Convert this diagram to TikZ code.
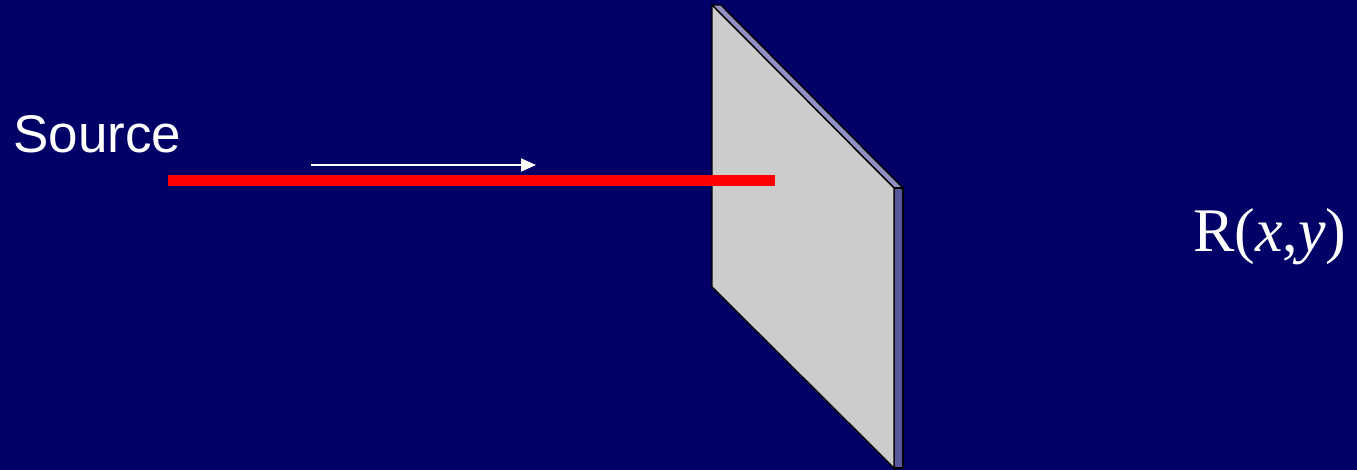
\documentclass[tikz,border=0pt]{standalone}
\usepackage{fontspec}
\setmainfont{Liberation Sans}
\newfontfamily\timesrm{Liberation Serif}
\definecolor{slidebg}{HTML}{000066}
\definecolor{platefront}{HTML}{CCCCCC}
\definecolor{platetop}{HTML}{9090C4}
\definecolor{plateside}{HTML}{58589C}
\usetikzlibrary{arrows.meta, positioning}

\begin{document}
\begin{tikzpicture}[
  x=1pt, y=-1pt,
  caption/.style={text=white, inner sep=0pt, anchor=base west},
  face/.style={draw=black, line width=1.4pt, line join=miter},
  beam/.style={draw=red, line width=11pt},
  flow/.style={-{Triangle[length=15pt, width=13pt]}, white, line width=1.8pt},
]
  % background and frame
  \fill[slidebg] (0,0) rectangle (1357,470);
  \useasboundingbox (0,0) rectangle (1357,470);

  % the plate
  \coordinate (tl) at (712,5);
  \coordinate (bl) at (712,287);
  \coordinate (br) at (894,468);
  \coordinate (tr) at (894,188);
  \coordinate (ttr) at (721,5);
  \coordinate (str) at (903,188);
  \coordinate (sbr) at (903,468);
  \filldraw[face, fill=platetop]   (tl) -- (ttr) -- (str) -- (tr) -- cycle;
  \filldraw[face, fill=plateside]  (tr) -- (str) -- (sbr) -- (br) -- cycle;
  \filldraw[face, fill=platefront] (tl) -- (tr) -- (br) -- (bl) -- cycle;

  % incoming beam
  \coordinate (b0) at (168,181);
  \coordinate (b1) at (775,181);
  \draw[beam] (b0) -- (b1);

  \coordinate (a0) at (311,165);
  \coordinate (a1) at (536,165);
  \draw[flow] (a0) -- (a1);

  % labels
  \node[caption, font=\fontsize{53}{60}\selectfont] (source) at (13,153) {Source};
  \node[caption, font=\timesrm\fontsize{62}{70}\selectfont] (response) at (1193,252)
    {R(\textit{x},\textit{y})};
\end{tikzpicture}
\end{document}
